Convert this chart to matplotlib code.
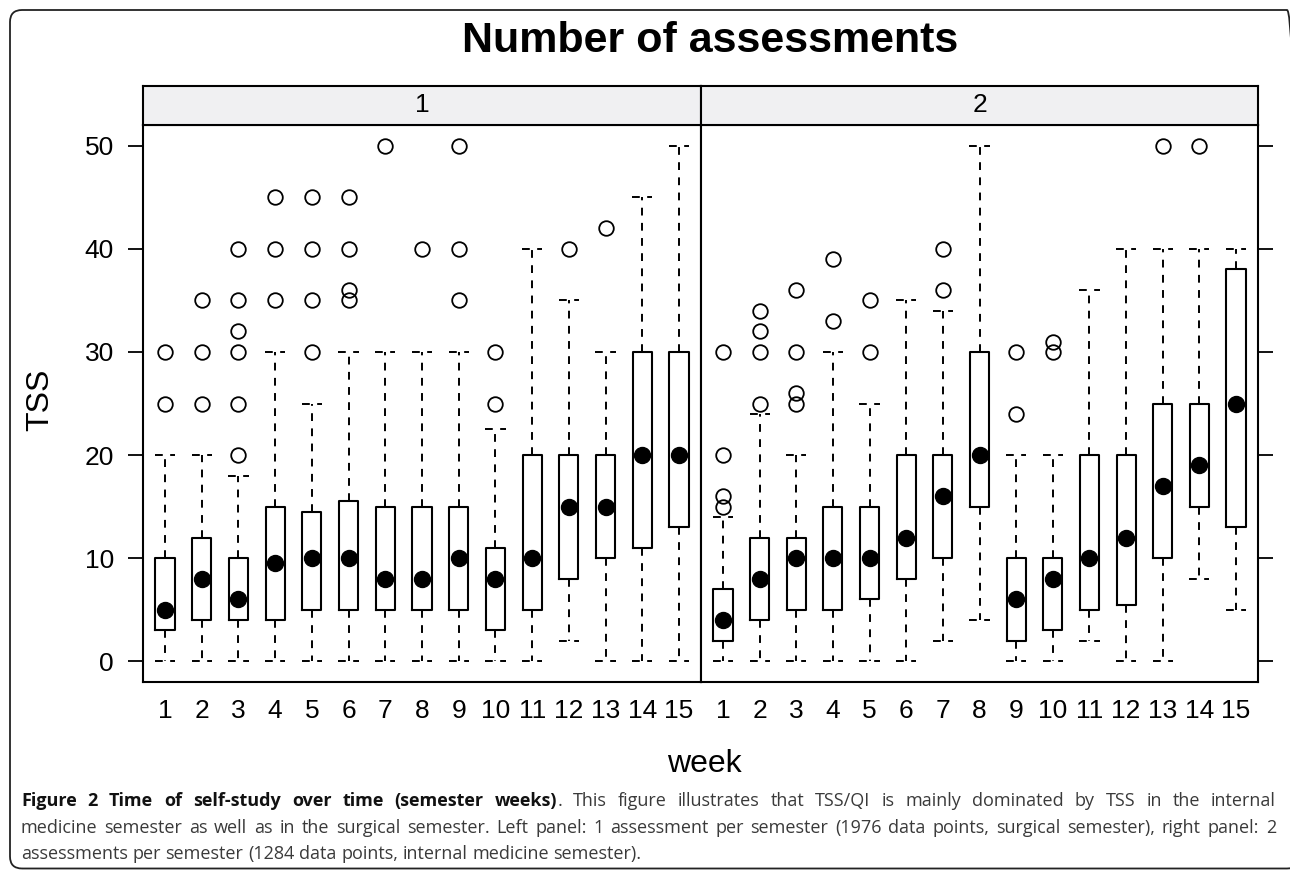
import matplotlib
matplotlib.use("Agg")
import matplotlib.pyplot as plt
from matplotlib.patches import FancyBboxPatch

# ---------------- data ----------------
weeks = list(range(1, 16))
week_labels = [str(w) for w in weeks]
panel_labels = ["1", "2"]
y_ticks = [0, 10, 20, 30, 40, 50]

# panel 1 (1 assessment per semester)
p1_q1 = [3, 4, 4, 4, 5, 5, 5, 5, 5, 3, 5, 8, 10, 11, 13]
p1_med = [5, 8, 6, 9.5, 10, 10, 8, 8, 10, 8, 10, 15, 15, 20, 20]
p1_q3 = [10, 12, 10, 15, 14.5, 15.5, 15, 15, 15, 11, 20, 20, 20, 30, 30]
p1_lo = [0, 0, 0, 0, 0, 0, 0, 0, 0, 0, 0, 2, 0, 0, 0]
p1_hi = [20, 20, 18, 30, 25, 30, 30, 30, 30, 22.5, 40, 35, 30, 45, 50]
p1_out = [[25, 30], [25, 30, 35], [20, 25, 30, 32, 35, 40], [35, 40, 45],
          [30, 35, 40, 45], [35, 36, 40, 45], [50], [40], [35, 40, 50],
          [25, 30], [], [40], [42], [], []]

# panel 2 (2 assessments per semester)
p2_q1 = [2, 4, 5, 5, 6, 8, 10, 15, 2, 3, 5, 5.5, 10, 15, 13]
p2_med = [4, 8, 10, 10, 10, 12, 16, 20, 6, 8, 10, 12, 17, 19, 25]
p2_q3 = [7, 12, 12, 15, 15, 20, 20, 30, 10, 10, 20, 20, 25, 25, 38]
p2_lo = [0, 0, 0, 0, 0, 0, 2, 4, 0, 0, 2, 0, 0, 8, 5]
p2_hi = [14, 24, 20, 30, 25, 35, 34, 50, 20, 20, 36, 40, 40, 40, 40]
p2_out = [[15, 16, 20, 30], [25, 30, 32, 34], [25, 26, 30, 36], [33, 39],
          [30, 35], [], [36, 40], [], [24, 30], [30, 31], [], [], [50], [50], []]

title = "Number of assessments"
ylabel = "TSS"
xlabel = "week"

# ---------------- figure ----------------
W, H = 1290, 872
fig = plt.figure(figsize=(W / 100, H / 100), dpi=100)
FONT = "Liberation Sans"


def fx(px):
    return px / W


def fy(py):
    return 1 - py / H


PT, PB = 125, 682
XL, XM, XR = 143, 701, 1258
ST = 86

ax1 = fig.add_axes([fx(XL), fy(PB), (XM - XL) / W, (PB - PT) / H])
ax2 = fig.add_axes([fx(XM), fy(PB), (XR - XM) / W, (PB - PT) / H])

panels = [
    (ax1, p1_q1, p1_med, p1_q3, p1_lo, p1_hi, p1_out),
    (ax2, p2_q1, p2_med, p2_q3, p2_lo, p2_hi, p2_out),
]

dash = (0, (4, 3.8))
for ax, q1, med, q3, lo, hi, out in panels:
    stats = []
    for i in range(len(weeks)):
        stats.append(dict(med=med[i], q1=q1[i], q3=q3[i],
                          whislo=lo[i], whishi=hi[i], fliers=out[i]))
    ax.bxp(stats, positions=weeks, widths=0.52, capwidths=0.55,
           patch_artist=False, manage_ticks=False,
           boxprops=dict(color="black", linewidth=1.5),
           whiskerprops=dict(color="black", linewidth=1.4, linestyle=dash),
           capprops=dict(color="black", linewidth=1.4, linestyle=dash),
           medianprops=dict(linewidth=0),
           flierprops=dict(marker="o", markerfacecolor="none",
                           markeredgecolor="black", markersize=10.5,
                           markeredgewidth=1.3, linestyle="none"))
    ax.plot(weeks, med, "o", color="black", markersize=11.5, zorder=5)
    ax.set_xlim(0.4, 15.6)
    ax.set_ylim(-2, 52)
    ax.set_xticks(weeks)
    ax.set_xticklabels(week_labels, fontfamily=FONT, fontsize=19)
    ax.tick_params(axis="x", length=0, pad=12)
    for s in ax.spines.values():
        s.set_linewidth(1.5)

ax1.set_yticks(y_ticks)
ax1.set_yticklabels([str(t) for t in y_ticks], fontfamily=FONT, fontsize=19)
ax1.tick_params(axis="y", direction="out", length=11, width=1.3, pad=10)
ax2.set_yticks(y_ticks)
ax2.tick_params(axis="y", left=False, labelleft=False, right=True,
                direction="out", length=11, width=1.3)

# strips
for (x0, x1), lab in zip([(XL, XM), (XM, XR)], panel_labels):
    sa = fig.add_axes([fx(x0), fy(PT), (x1 - x0) / W, (PT - ST) / H])
    sa.set_facecolor("#f0f0f2")
    sa.set_xticks([])
    sa.set_yticks([])
    for s in sa.spines.values():
        s.set_linewidth(1.5)
    sa.text(0.5, 0.5, lab, ha="center", va="center", fontfamily=FONT,
            fontsize=19, transform=sa.transAxes)

fig.text(fx(710), fy(41), title, ha="center", va="center", fontfamily=FONT,
         fontsize=31, fontweight="bold")
fig.text(fx(40), fy(400), ylabel, ha="center", va="center", rotation=90,
         fontfamily=FONT, fontsize=23)
fig.text(fx(704), fy(764), xlabel, ha="center", va="center",
         fontfamily=FONT, fontsize=23)

# border (right side runs off the canvas, as in the reference)
border = FancyBboxPatch((0.10, 0.035), 12.99 - 0.10, 8.62 - 0.035,
                        boxstyle="round,pad=0,rounding_size=0.12",
                        transform=fig.dpi_scale_trans, fill=False,
                        edgecolor="#222222", linewidth=1.3, clip_on=False)
fig.patches.append(border)

# caption (justified)
CAP_FONT = "Open Sans"
CAP_SIZE = 13
cap_lines = [
    ([[("Figure", True)], [("2", True)], [("Time", True)], [("of", True)],
      [("self-study", True)], [("over", True)], [("time", True)],
      [("(semester", True)], [("weeks)", True), (".", False)]]
     + [[(w, False)] for w in "This figure illustrates that TSS/QI is mainly dominated by TSS in the internal".split()],
     True),
    ([[(w, False)] for w in "medicine semester as well as in the surgical semester. Left panel: 1 assessment per semester (1976 data points, surgical semester), right panel: 2".split()],
     True),
    ([[(w, False)] for w in "assessments per semester (1284 data points, internal medicine semester).".split()],
     False),
]
cap_base = [806, 833, 859]
CX0, CX1 = 21, 1276

renderer = fig.canvas.get_renderer()
_a = fig.text(0, 0, "a", fontfamily=CAP_FONT, fontsize=CAP_SIZE)
_aa = fig.text(0, 0, "a a", fontfamily=CAP_FONT, fontsize=CAP_SIZE)
sp_w = _aa.get_window_extent(renderer).width - 2 * _a.get_window_extent(renderer).width
_a.remove()
_aa.remove()

for (words, justify), ypx in zip(cap_lines, cap_base):
    items = []
    for word in words:
        segs = []
        for s, b in word:
            t = fig.text(0, fy(ypx), s, fontfamily=CAP_FONT, fontsize=CAP_SIZE,
                         fontweight="bold" if b else "normal",
                         color="#111111" if b else "#3a3a3a",
                         va="baseline", ha="left")
            wdt = t.get_window_extent(renderer).width
            segs.append((t, wdt))
        items.append(segs)
    widths = [sum(w for _, w in segs) for segs in items]
    if justify:
        gap = (CX1 - CX0 - sum(widths)) / (len(items) - 1)
    else:
        gap = sp_w
    x = CX0
    for segs, wsum in zip(items, widths):
        xx = x
        for t, wdt in segs:
            t.set_x(fx(xx))
            xx += wdt
        x += wsum + gap

fig.savefig("out.png", dpi=100)
